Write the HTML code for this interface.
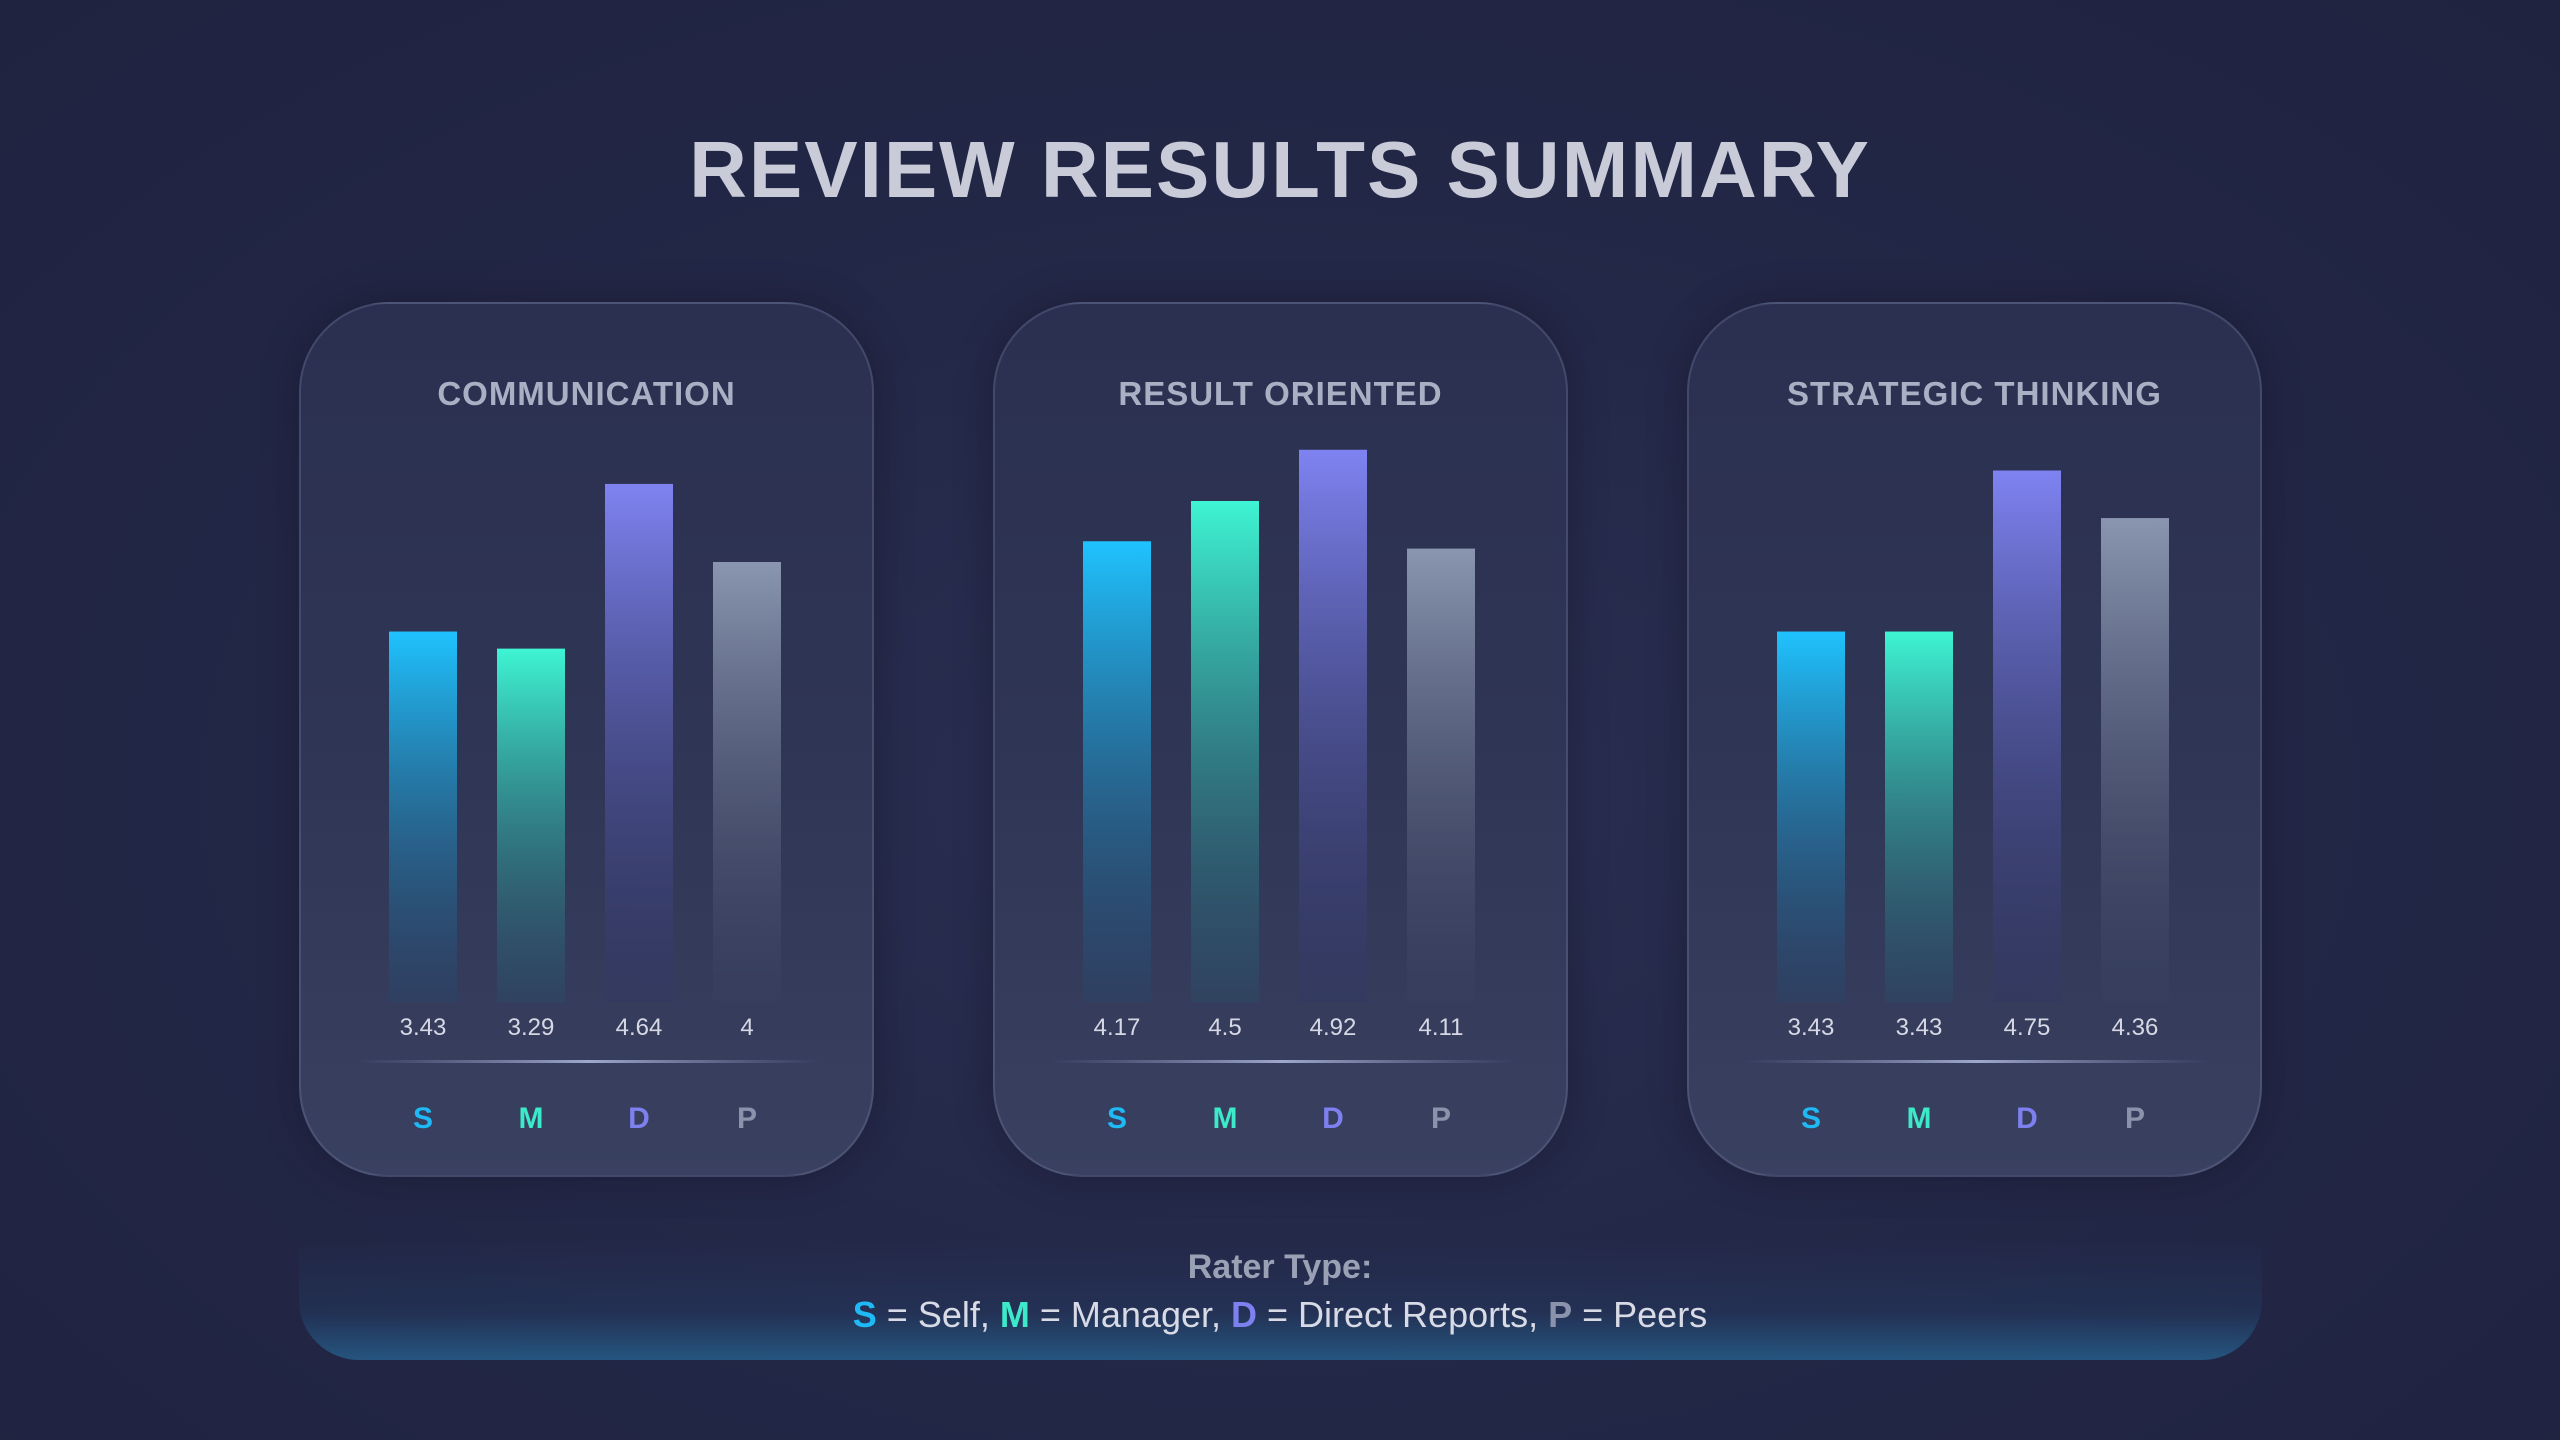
<!DOCTYPE html>
<html><head><meta charset="utf-8">
<style>
html,body{margin:0;padding:0}
body{width:2560px;height:1440px;overflow:hidden;position:relative;
background:radial-gradient(ellipse at 50% 55%,#2a2f52 0%,#242848 45%,#1f2340 100%);
font-family:"Liberation Sans",sans-serif}
#title{position:absolute;left:0;width:2560px;top:124px;text-align:center;font-size:80px;font-weight:bold;color:#c9ccd8;letter-spacing:2px}
.card{position:absolute;top:302px;width:575px;height:875px;border-radius:90px;
background:linear-gradient(180deg,#2b3050 0%,#2f3555 50%,#394060 100%);
border:2px solid rgba(150,160,200,0.22);box-sizing:border-box;
box-shadow:0 0 40px rgba(0,0,0,0.25)}
.ctitle{position:absolute;left:0;width:100%;top:71px;text-align:center;font-size:33px;font-weight:bold;color:#a9b0c4;letter-spacing:1px}
svg{position:absolute;left:0;top:0}
#legend{position:absolute;left:299px;top:1240px;width:1963px;height:120px;border-radius:0 0 60px 60px;
background:linear-gradient(180deg,rgba(35,40,70,0) 0%,rgba(35,60,100,0.45) 60%,#25557f 100%)}
#lt1{position:absolute;left:0;width:2560px;top:1248px;text-align:center;font-size:34px;font-weight:bold;color:#9aa1b5}
#lt2{position:absolute;left:0;width:2560px;top:1294px;text-align:center;font-size:36px;color:#d8dbe6}
</style></head><body>
<div id="title">REVIEW RESULTS SUMMARY</div>
<div id="cards"></div>
<div id="legend"></div>
<div id="lt1">Rater Type:</div>
<div id="lt2"><b style="color:#1fbaf5">S</b> = Self, <b style="color:#3ce9c8">M</b> = Manager, <b style="color:#7d80ee">D</b> = Direct Reports, <b style="color:#8a93ab">P</b> = Peers</div>
<script>
const categories = ["COMMUNICATION","RESULT ORIENTED","STRATEGIC THINKING"];
const raters = ["S","M","D","P"];
const selfVals = [3.43,4.17,3.43];
const managerVals = [3.29,4.5,3.43];
const directVals = [4.64,4.92,4.75];
const peerVals = [4,4.11,4.36];

const cardLefts=[299,993,1687];
const colors=[["#1fc3ff","#23496f"],["#3ef5d3","#25546a"],["#7f83f2","#2f3466"],["#8a96b0","#3a4260"]];
const letterColors=["#1fbaf5","#3ce9c8","#7d80ee","#8a93ab"];
const series=[selfVals,managerVals,directVals,peerVals];
function yScale(v){return 1048-122*v-302;}
const barBottom=1000-302;
const cardsEl=document.getElementById('cards');
const NS="http://www.w3.org/2000/svg";
categories.forEach((cat,ci)=>{
  const card=document.createElement('div');
  card.className='card';
  
  
  card.style.left=cardLefts[ci]+'px';
  const t=document.createElement('div');t.className='ctitle';t.textContent=cat;
  
  
  card.appendChild(t);
  const svg=document.createElementNS(NS,'svg');
  svg.setAttribute('width','575');svg.setAttribute('height','875');
  let defs='<defs><linearGradient id="ln'+ci+'" x1="0" x2="1"><stop offset="0" stop-color="#8a96c0" stop-opacity="0"/><stop offset="0.5" stop-color="#aab4d8" stop-opacity="0.9"/><stop offset="1" stop-color="#8a96c0" stop-opacity="0"/></linearGradient>';
  colors.forEach((c,i)=>{defs+='<linearGradient id="g'+ci+'_'+i+'" x1="0" y1="0" x2="0" y2="1"><stop offset="0" stop-color="'+c[0]+'"/><stop offset="1" stop-color="'+c[1]+'" stop-opacity="0.3"/></linearGradient>';});
  defs+='</defs>';
  svg.innerHTML=defs;
  raters.forEach((r,i)=>{
    const v=series[i][ci];
    const x=88+i*108, w=68, y=yScale(v);
    const rect=document.createElementNS(NS,'rect');
    
    
    rect.setAttribute('x',x);rect.setAttribute('y',y);rect.setAttribute('width',w);rect.setAttribute('height',barBottom-y);
    rect.setAttribute('fill','url(#g'+ci+'_'+i+')');
    svg.appendChild(rect);
    const tv=document.createElementNS(NS,'text');
    
    
    tv.setAttribute('x',x+w/2);tv.setAttribute('y',731);tv.setAttribute('text-anchor','middle');
    tv.setAttribute('font-size','24');tv.setAttribute('fill','#d6d9e4');tv.setAttribute('font-family','Liberation Sans, sans-serif');
    tv.textContent=String(v);
    svg.appendChild(tv);
    const tl=document.createElementNS(NS,'text');
    
    
    tl.setAttribute('x',x+w/2);tl.setAttribute('y',824);tl.setAttribute('text-anchor','middle');
    tl.setAttribute('font-size','30');tl.setAttribute('font-weight','bold');tl.setAttribute('fill',letterColors[i]);tl.setAttribute('font-family','Liberation Sans, sans-serif');
    tl.textContent=r;
    svg.appendChild(tl);
  });
  const ln=document.createElementNS(NS,'rect');
  
  
  ln.setAttribute('x',55);ln.setAttribute('y',756);ln.setAttribute('width',465);ln.setAttribute('height',3);ln.setAttribute('fill','url(#ln'+ci+')');
  svg.appendChild(ln);
  card.appendChild(svg);
  cardsEl.appendChild(card);
});
</script>
</body></html>
